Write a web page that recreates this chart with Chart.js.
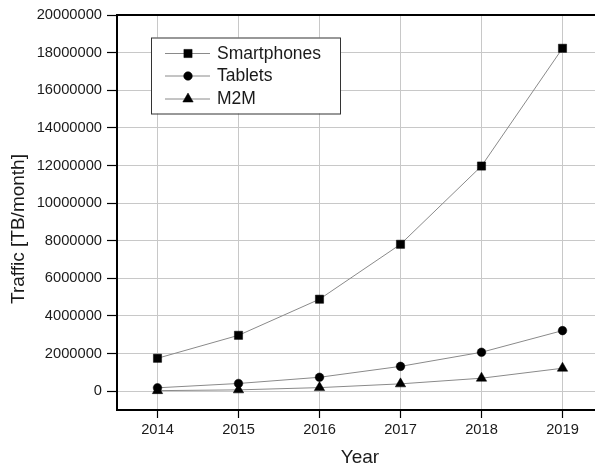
<!DOCTYPE html>
<html>
<head>
<meta charset="utf-8">
<script src="https://cdn.jsdelivr.net/npm/chart.js@4/dist/chart.umd.min.js"></script>
<style>
  html, body { margin: 0; padding: 0; background: #fff; overflow: hidden; width: 595px; height: 469px; }
  canvas { display: block; }
</style>
</head>
<body>
<canvas id="c" width="612" height="469"></canvas>
<script>
const years = [2014, 2015, 2016, 2017, 2018, 2019];
const smartphones = [1750000, 2970000, 4890000, 7810000, 11970000, 18230000];
const tablets = [180000, 410000, 740000, 1320000, 2070000, 3220000];
const m2m = [30000, 70000, 190000, 390000, 690000, 1220000];
const seriesNames = ['Smartphones', 'Tablets', 'M2M'];
const yTickValues = [0, 2000000, 4000000, 6000000, 8000000, 10000000, 12000000, 14000000, 16000000, 18000000, 20000000];
const xTitle = 'Year';
const yTitle = 'Traffic [TB/month]';

const FONT = '"Liberation Sans", Arial, Helvetica, sans-serif';

function pts(arr) { return years.map((y, i) => ({ x: y, y: arr[i] })); }

const styles = [
  { pointStyle: 'rect', r: 5.8 },
  { pointStyle: 'circle', r: 4.3 },
  { pointStyle: 'triangle', r: 6 }
];
const seriesData = [smartphones, tablets, m2m];

const datasets = seriesNames.map((name, i) => ({
  label: name,
  data: pts(seriesData[i]),
  borderColor: '#8a8a8a',
  borderWidth: 1,
  backgroundColor: '#000',
  pointStyle: styles[i].pointStyle,
  pointRadius: styles[i].r,
  pointBackgroundColor: '#000',
  pointBorderColor: '#000',
  pointBorderWidth: 0.5,
  tension: 0,
  fill: false
}));

const extras = {
  id: 'extras',
  afterDraw(chart) {
    const ctx = chart.ctx;
    const a = chart.chartArea;
    ctx.save();
    ctx.strokeStyle = '#000';
    ctx.lineWidth = 2;
    ctx.beginPath();
    ctx.moveTo(a.left - 1, a.top);
    ctx.lineTo(a.right, a.top);
    ctx.stroke();

    ctx.fillStyle = '#1a1a1a';
    ctx.font = '19px ' + FONT;
    ctx.textAlign = 'center';
    ctx.textBaseline = 'middle';
    ctx.translate(18.5, 229);
    ctx.rotate(-Math.PI / 2);
    ctx.fillText(yTitle, 0, 0);
    ctx.restore();

    ctx.save();
    const bx = 151, by = 37.5, bw = 189, bh = 76;
    ctx.fillStyle = '#fff';
    ctx.fillRect(bx, by, bw, bh);
    ctx.strokeStyle = '#333';
    ctx.lineWidth = 1;
    ctx.strokeRect(bx + 0.5, by + 0.5, bw, bh);
    const rowY = [53.5, 76, 99];
    chart.data.datasets.forEach((ds, i) => {
      const y = rowY[i];
      ctx.strokeStyle = '#8a8a8a';
      ctx.lineWidth = 1;
      ctx.beginPath();
      ctx.moveTo(165, y);
      ctx.lineTo(210, y);
      ctx.stroke();
      ctx.fillStyle = '#000';
      ctx.strokeStyle = '#000';
      ctx.lineWidth = 0.5;
      Chart.helpers.drawPoint(ctx, { pointStyle: ds.pointStyle, radius: ds.pointRadius, borderWidth: 0.5, rotation: 0 }, 188, y);
      ctx.fillStyle = '#1a1a1a';
      ctx.font = '17.5px ' + FONT;
      ctx.textAlign = 'left';
      ctx.textBaseline = 'middle';
      ctx.fillText(ds.label, 217, y + 0.5);
    });
    ctx.restore();
  }
};

new Chart(document.getElementById('c'), {
  type: 'line',
  data: { datasets },
  options: {
    responsive: false,
    animation: false,
    layout: { padding: { top: 15, right: 9, left: 0, bottom: 0 } },
    plugins: { legend: { display: false }, tooltip: { enabled: false } },
    scales: {
      x: {
        type: 'linear',
        min: 2013.5,
        max: 2019.5,
        afterBuildTicks: s => { s.ticks = years.map(v => ({ value: v })); },
        afterFit: s => { s.height = 59; },
        grid: { color: '#c8c8c8', lineWidth: 1, tickColor: '#000', tickLength: 8, tickWidth: 1.2 },
        border: { color: '#000', width: 2 },
        ticks: {
          color: '#1a1a1a',
          font: { family: FONT, size: 14.7 },
          padding: 3,
          maxRotation: 0,
          callback: v => String(v)
        },
        title: {
          display: true,
          text: xTitle,
          color: '#1a1a1a',
          font: { family: FONT, size: 19 },
          padding: { top: 0, bottom: 0 }
        }
      },
      y: {
        type: 'linear',
        min: -1000000,
        max: 20000000,
        afterBuildTicks: s => { s.ticks = yTickValues.map(v => ({ value: v })); },
        afterFit: s => { s.width = 117; },
        grid: { color: '#c8c8c8', lineWidth: 1, tickColor: '#000', tickLength: 10, tickWidth: 1.2 },
        border: { color: '#000', width: 2 },
        ticks: {
          color: '#1a1a1a',
          font: { family: FONT, size: 14.7 },
          padding: 5,
          callback: v => String(v)
        }
      }
    }
  },
  plugins: [extras]
});
</script>
</body>
</html>
